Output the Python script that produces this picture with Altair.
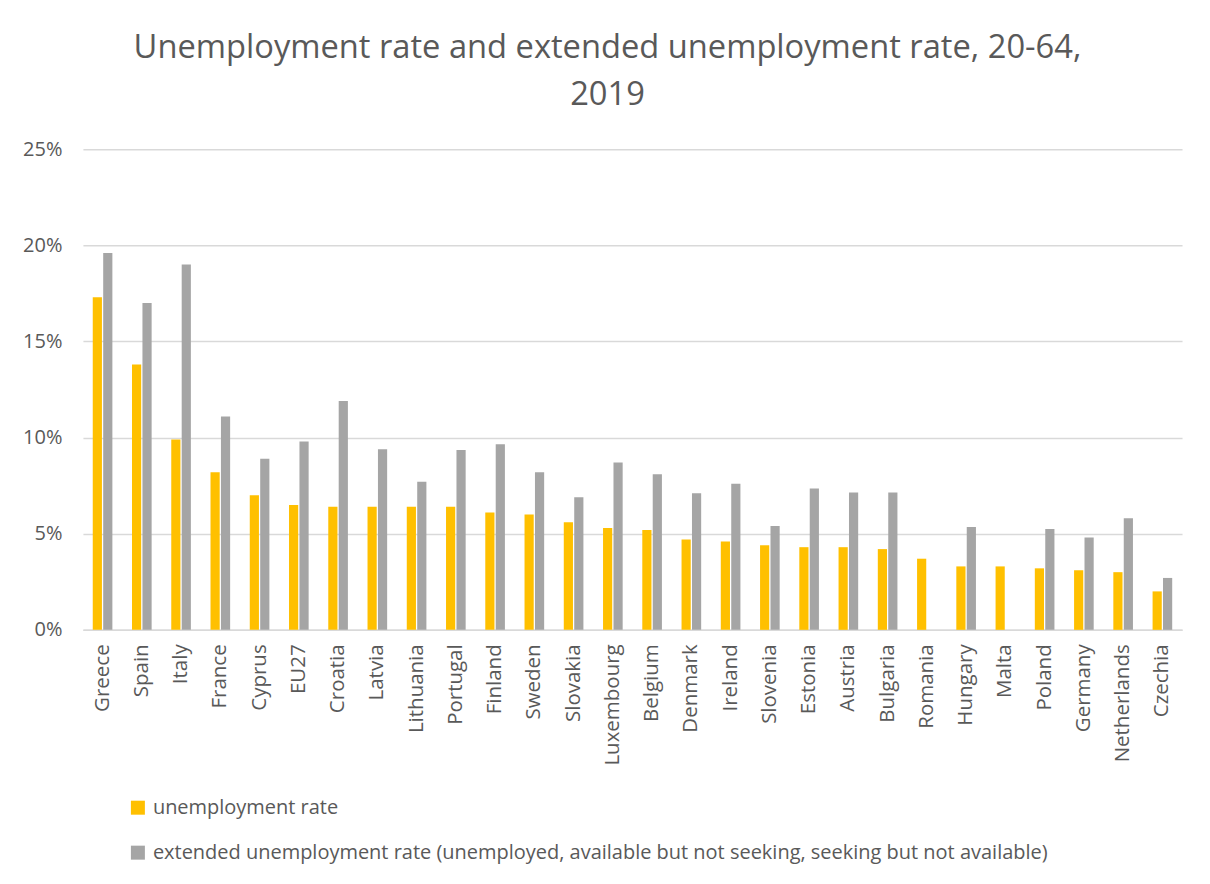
import altair as alt
import pandas as pd

countries = ["Greece", "Spain", "Italy", "France", "Cyprus", "EU27", "Croatia", "Latvia",
             "Lithuania", "Portugal", "Finland", "Sweden", "Slovakia", "Luxembourg", "Belgium",
             "Denmark", "Ireland", "Slovenia", "Estonia", "Austria", "Bulgaria", "Romania",
             "Hungary", "Malta", "Poland", "Germany", "Netherlands", "Czechia"]
unemployment = [17.3, 13.8, 9.9, 8.2, 7.0, 6.5, 6.4, 6.4, 6.4, 6.4, 6.1, 6.0, 5.6, 5.3, 5.2,
                4.7, 4.6, 4.4, 4.3, 4.3, 4.2, 3.7, 3.3, 3.3, 3.2, 3.1, 3.0, 2.0]
extended = [19.6, 17.0, 19.0, 11.1, 8.9, 9.8, 11.9, 9.4, 7.7, 9.35, 9.65, 8.2, 6.9, 8.7, 8.1,
            7.1, 7.6, 5.4, 7.35, 7.15, 7.15, None, 5.35, None, 5.25, 4.8, 5.8, 2.7]

series_names = ["unemployment rate",
                "extended unemployment rate (unemployed, available but not seeking, seeking but not available)"]
series_colors = ["#FFC000", "#A5A5A5"]

rows = []
for c, u, e in zip(countries, unemployment, extended):
    rows.append({"country": c, "series": series_names[0], "value": u / 100})
    if e is not None:
        rows.append({"country": c, "series": series_names[1], "value": e / 100})
df = pd.DataFrame(rows)

font = "Open Sans"
txt = "#595959"

chart = alt.Chart(df).mark_bar().encode(
    x=alt.X("country:N", sort=countries,
            scale=alt.Scale(paddingInner=0.5, paddingOuter=0.25),
            axis=alt.Axis(title=None, labelAngle=270, labelAlign="right", labelBaseline="middle",
                          labelPadding=14, ticks=False, domainColor="#d9d9d9", domainWidth=1.5,
                          labelFontSize=20.5, labelColor=txt, labelFont=font)),
    xOffset=alt.XOffset("series:N", sort=series_names,
                        scale=alt.Scale(domain=series_names, paddingInner=0.12, paddingOuter=0)),
    y=alt.Y("value:Q", scale=alt.Scale(domain=[0, 0.25]),
            axis=alt.Axis(title=None, format=".0%", values=[0, 0.05, 0.1, 0.15, 0.2, 0.25],
                          ticks=False, domain=False, gridColor="#d9d9d9", gridWidth=1.5,
                          labelPadding=21, labelFontSize=20, labelColor=txt, labelFont=font)),
    color=alt.Color("series:N",
                    scale=alt.Scale(domain=series_names, range=series_colors),
                    legend=alt.Legend(title=None, orient="none", legendX=45, legendY=649,
                                      direction="vertical", symbolType="square", symbolSize=196,
                                      symbolStrokeWidth=0, rowPadding=25, labelOffset=5,
                                      labelFontSize=20, labelColor=txt, labelFont=font,
                                      labelLimit=1100)),
).properties(
    width=1100, height=481,
    title=alt.TitleParams(
        text=["Unemployment rate and extended unemployment rate, 20-64,", "2019"],
        anchor="middle", frame="group", dx=-25, offset=2, baseline="alphabetic",
        lineHeight=47, fontSize=32.7, font=font, color=txt, fontWeight="normal"),
    autosize=alt.AutoSizeParams(type="none"),
    padding={"left": 75, "top": 141, "right": 20, "bottom": 250},
).configure_view(stroke=None)

chart.save("out.html", embed_options={"renderer": "svg", "actions": False})
